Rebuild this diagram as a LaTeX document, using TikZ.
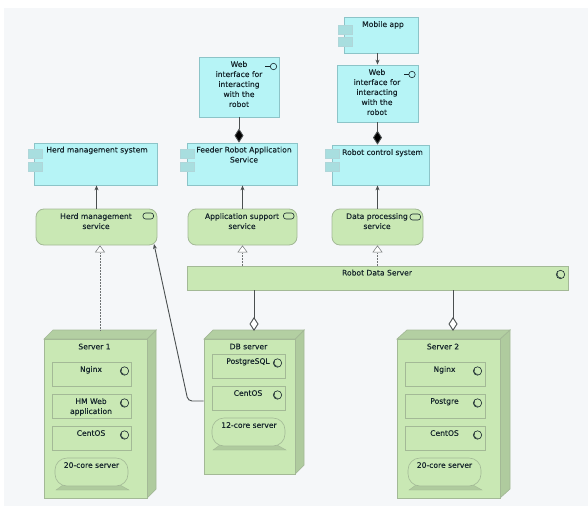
\documentclass[tikz,border=0pt]{standalone}
\usepackage{fontspec}
\setmainfont{DejaVu Sans}[FakeBold=0.2]
\usetikzlibrary{arrows.meta}
\definecolor{bgc}{HTML}{F5F7F9}
\definecolor{cy}{HTML}{B6F4F6}
\definecolor{cyd}{HTML}{8CC4C8}
\definecolor{cyp}{HTML}{A8DEDF}
\definecolor{gr}{HTML}{C9E8B4}
\definecolor{grd}{HTML}{A3B996}
\definecolor{grs}{HTML}{AFCB9E}
\definecolor{grt}{HTML}{B3CFA2}
\definecolor{tx}{HTML}{16262C}
\definecolor{ln}{HTML}{4A4F50}
\tikzset{
  x=1pt,y=-1pt,
  cybox/.style={draw=cyd,fill=cy,line width=.8pt,inner sep=0pt},
  grbox/.style={draw=grd,fill=gr,line width=.8pt,inner sep=0pt},
  svcbox/.style={grbox,rounded corners=8pt},
  innerbox/.style={draw=grd,fill=gr,line width=.7pt,inner sep=0pt},
  devbox/.style={draw=grd,fill=gr,line width=.6pt,rounded corners=12pt,inner sep=0pt},
  lab/.style={text=tx,font=\fontsize{7.6}{10}\selectfont,align=center,inner sep=0pt,anchor=north},
  assign/.style={draw=ln,line width=.9pt},
  flow/.style={assign,-{Stealth[length=5pt,width=4pt]}},
  comp/.style={assign,-{Diamond[length=14pt,width=9pt,fill=black]}},
  aggr/.style={assign,-{Diamond[open,length=14pt,width=9pt,fill=white]}},
  real/.style={draw=ln!80,line width=.5pt,densely dotted,-{Triangle[open,length=7pt,width=10pt,fill=white]}},
}
% name x1 y1 x2 y2 style
\newcommand\bx[6]{%
  \pgfmathsetmacro\bw{#4-#2}\pgfmathsetmacro\bh{#5-#3}%
  \pgfmathsetmacro\bcx{(#2+#4)/2}\pgfmathsetmacro\bcy{(#3+#5)/2}%
  \node[#6,minimum width=\bw pt,minimum height=\bh pt] (#1) at (\bcx,\bcy) {};}
\newcommand\port[2]{\fill[cyp,draw=cyd!70,line width=.4pt] (#1,#2) rectangle ++(14,9);}
\newcommand\ball[2]{\draw[tx,line width=.6pt] (#1,#2) circle (4.2);
  \draw[tx,line width=.5pt] (#1-3,#2-2) arc (210:80:3.6);}
\newcommand\iface[2]{\draw[tx,line width=.6pt] (#1,#2) circle (3.2); \draw[tx,line width=.6pt] (#1-3.2,#2) -- ++(-5,0);}
\newcommand\svcicon[2]{\draw[tx,line width=.6pt,rounded corners=2.5pt] (#1,#2) rectangle ++(10.5,6);}
\newcommand\server[6]{% name x1 x2(front) y1 y2 depth
  \fill[grs,draw=grd,line width=.7pt] (#3,#4) -- ++(#6,-9) -- ++(0,#5-#4) -- (#3,#5) -- cycle;
  \fill[grt,draw=grd,line width=.7pt] (#2,#4) -- ++(#6,-9) -- (#3+#6,#4-9) -- (#3,#4) -- cycle;
  \bx{#1}{#2}{#4}{#3}{#5}{grbox}}
\newcommand\device[5]{% name x1 y1 x2 y2
  \fill[grs,draw=grd,line width=.4pt] (#2+8,#5-1) -- (#4-8,#5-1) -- (#4+1,#5+4) -- (#2+1,#5+4) -- cycle;
  \bx{#1}{#2}{#3}{#4}{#5}{devbox}}
\begin{document}
\begin{tikzpicture}
\useasboundingbox (0,0) rectangle (588,513);
\fill[white] (0,0) rectangle (588,513);
\fill[bgc] (4,8) rectangle (588,506);

% top row
\bx{mobile}{344}{17}{418}{53}{cybox}
\port{338}{25}\port{338}{37}
\node[lab] (mobilet) at (383,21) {Mobile app};
\bx{webb}{337}{65}{418}{122}{cybox}
\node[lab] (webbt) at (377,69) {Web\\interface for\\interacting\\with the\\robot};
\iface{412}{74.5}
\bx{weba}{199}{57}{279}{117}{cybox}
\node[lab] (webat) at (239,61) {Web\\interface for\\interacting\\with the\\robot};
\iface{273.5}{66.5}

% application row
\bx{herdsys}{34}{143}{157}{185}{cybox}
\port{28}{149}\port{28}{162}
\node[lab] (herdsyst) at (97,146.5) {Herd management system};
\bx{feeder}{187}{143}{297}{185}{cybox}
\port{180}{149}\port{180}{162}
\node[lab] (feedert) at (244,146.5) {Feeder Robot Application\\Service};
\bx{rcs}{332}{145}{429}{185}{cybox}
\port{325}{149}\port{325}{162}
\node[lab] (rcst) at (382.5,149) {Robot control system};

% services
\bx{herdsvc}{36}{209}{157}{245}{svcbox}
\node[lab] (herdsvct) at (96,213) {Herd management\\service};
\svcicon{143}{213}
\bx{appsvc}{188}{209}{297}{245}{svcbox}
\node[lab] (appsvct) at (242,213) {Application support\\service};
\svcicon{283.5}{213}
\bx{datasvc}{332}{209}{423}{245}{svcbox}
\node[lab] (datasvct) at (377,213) {Data processing\\service};
\svcicon{410}{214}

% robot data server
\bx{rds}{187}{266}{568}{290}{grbox}
\node[lab] (rdst) at (377,269.5) {Robot Data Server};
\ball{560.5}{274.5}

% server 1
\server{srva}{44}{147}{339}{498}{9}
\node[lab] (srvat) at (94.5,343.5) {Server 1};
\bx{a1}{52}{362}{131}{386}{innerbox}
\node[lab] (a1t) at (91,366) {Nginx};
\ball{124.5}{371}
\bx{a2}{52}{394}{131}{418}{innerbox}
\node[lab] (a2t) at (91,398) {HM Web\\application};
\ball{124.5}{403}
\bx{a3}{52}{426}{131}{450}{innerbox}
\node[lab] (a3t) at (91,430) {CentOS};
\ball{124.5}{435}
\device{a4}{55}{458}{128}{486}
\node[lab] (a4t) at (91.5,462) {20-core server};

% db server
\server{srvb}{204}{295}{339}{474}{9}
\node[lab] (srvbt) at (248.5,343.5) {DB server};
\bx{b1}{212}{354}{285}{378}{innerbox}
\node[lab] (b1t) at (248,358) {PostgreSQL};
\ball{277.5}{363}
\bx{b2}{212}{386}{285}{410}{innerbox}
\node[lab] (b2t) at (248,390) {CentOS};
\ball{277.5}{395}
\device{b4}{212}{418}{285}{446}
\node[lab] (b4t) at (249,422) {12-core server};

% server 2
\server{srvc}{397}{500}{339}{498}{10}
\node[lab] (srvct) at (443,343.5) {Server 2};
\bx{c1}{405}{362}{485}{386}{innerbox}
\node[lab] (c1t) at (444.5,366) {Nginx};
\ball{477.5}{371}
\bx{c2}{405}{394}{485}{418}{innerbox}
\node[lab] (c2t) at (444.5,398) {Postgre};
\ball{477.5}{403}
\bx{c3}{405}{426}{485}{450}{innerbox}
\node[lab] (c3t) at (444.5,430) {CentOS};
\ball{477.5}{435}
\device{c4}{408}{458}{481}{486}
\node[lab] (c4t) at (444.5,462) {20-core server};

% free connector ends
\coordinate (sa) at (100,330);
\coordinate (sbj) at (254,290);
\coordinate (scj) at (453,290);
\coordinate (dbcorner) at (188,401);
\coordinate (herdhit) at (154,244);

% connectors
\draw[flow] (mobile.south -| webb.north) -- (webb.north);
\draw[comp] (webb.south) -- (webb.south |- rcs.north);
\draw[comp] (weba.south) -- (weba.south |- feeder.north);
\draw[flow] (herdsvc.north) -- (herdsvc.north |- herdsys.south);
\draw[flow] (appsvc.north) -- (appsvc.north |- feeder.south);
\draw[flow] (datasvc.north) -- (datasvc.north |- rcs.south);
\draw[real] (sa) -- (sa |- herdsvc.south);
\draw[real] (appsvc.south |- rds.north) -- (appsvc.south);
\draw[real] (datasvc.south |- rds.north) -- (datasvc.south);
\draw[aggr] (sbj) -- (sbj |- 0,331);
\draw[aggr] (scj) -- (scj |- 0,331);
\draw[flow,rounded corners=4pt] (srvb.west |- dbcorner) -- (dbcorner) -- (herdhit);
\end{tikzpicture}
\end{document}
